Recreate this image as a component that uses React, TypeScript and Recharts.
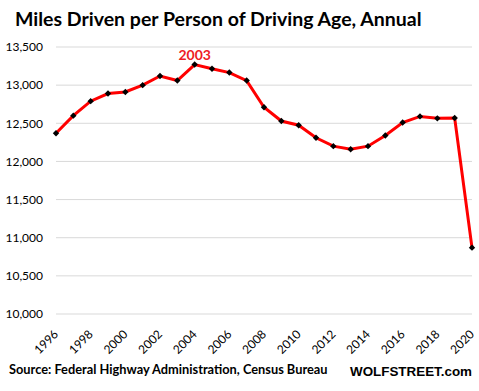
import React from "react";
import { LineChart, Line, XAxis, YAxis, CartesianGrid } from "recharts";

const years = [
  "1996", "1997", "1998", "1999", "2000", "2001", "2002", "2003", "2004",
  "2005", "2006", "2007", "2008", "2009", "2010", "2011", "2012", "2013",
  "2014", "2015", "2016", "2017", "2018", "2019", "2020",
];
const miles = [
  12370, 12600, 12790, 12890, 12910, 13000, 13120, 13060, 13270,
  13215, 13165, 13060, 12710, 12530, 12475, 12310, 12200, 12160,
  12200, 12340, 12510, 12590, 12565, 12570, 10870,
];
const yTicks = [10000, 10500, 11000, 11500, 12000, 12500, 13000, 13500];
const peakLabel = "2003";
const peakIndex = 8;

const data = years.map((year, i) => ({ year, miles: miles[i] }));

const fmt = (v: number) => v.toLocaleString("en-US");
const tickFont = "Lato, 'Open Sans', sans-serif";

const Diamond = (props: any) => {
  const { cx, cy } = props;
  if (cx == null || cy == null) return null;
  const s = 3.2;
  return (
    <polygon
      points={`${cx},${cy - s} ${cx + s},${cy} ${cx},${cy + s} ${cx - s},${cy}`}
      fill="#000"
    />
  );
};

const YearTick = (props: any) => {
  const { x, y, payload } = props;
  return (
    <g transform={`translate(${x + 3},${y + 13})`}>
      <text
        textAnchor="end"
        transform="rotate(-45)"
        fill="#000"
        fontSize={12}
        fontFamily={tickFont}>
        {payload.value}
      </text>
    </g>
  );
};

const PeakLabel = (props: any) => {
  const { x, y, index } = props;
  if (index !== peakIndex) return null;
  return (
    <text
      x={x}
      y={y - 5}
      textAnchor="middle"
      fill="#ee1c25"
      fontSize={14}
      fontWeight="bold"
      fontFamily={tickFont}>
      {peakLabel}
    </text>
  );
};

export default function App() {
  return (
    <div
      style={{
        position: "absolute",
        left: 0,
        top: 0,
        width: 479,
        height: 391,
        background: "#fff",
      }}>
      <LineChart
        width={479}
        height={391}
        data={data}
        margin={{ top: 47, right: 7, left: 0, bottom: 0 }}>
        <CartesianGrid vertical={false} stroke="#d9d9d9" strokeWidth={1} />
        <XAxis
          dataKey="year"
          interval={1}
          height={77}
          tick={<YearTick />}
          axisLine={false}
          tickLine={false}
        />
        <YAxis
          width={56}
          domain={[10000, 13500]}
          ticks={yTicks}
          tickFormatter={fmt}
          tick={{ fill: "#000", fontSize: 12, fontFamily: tickFont }}
          tickMargin={7}
          axisLine={false}
          tickLine={false}
        />
        <Line
          type="linear"
          dataKey="miles"
          stroke="#ff0000"
          strokeWidth={3}
          dot={<Diamond />}
          activeDot={false}
          label={<PeakLabel />}
          isAnimationActive={false}
        />
      </LineChart>
      <svg
        width={479}
        height={391}
        style={{ position: "absolute", left: 0, top: 0, pointerEvents: "none" }}>
        <text
          x={15}
          y={26}
          fontSize={19.5}
          fontWeight="bold"
          fontFamily={tickFont}
          fill="#000">
          Miles Driven per Person of Driving Age, Annual
        </text>
        <text
          x={9}
          y={374}
          fontSize={12.8}
          fontWeight="bold"
          fontFamily={tickFont}
          fill="#000">
          Source: Federal Highway Administration, Census Bureau
        </text>
        <text
          x={350}
          y={376}
          fontSize={13.4}
          fontWeight="bold"
          fontFamily="'Liberation Sans', Arial, sans-serif"
          fill="#000">
          WOLFSTREET.com
        </text>
      </svg>
    </div>
  );
}
